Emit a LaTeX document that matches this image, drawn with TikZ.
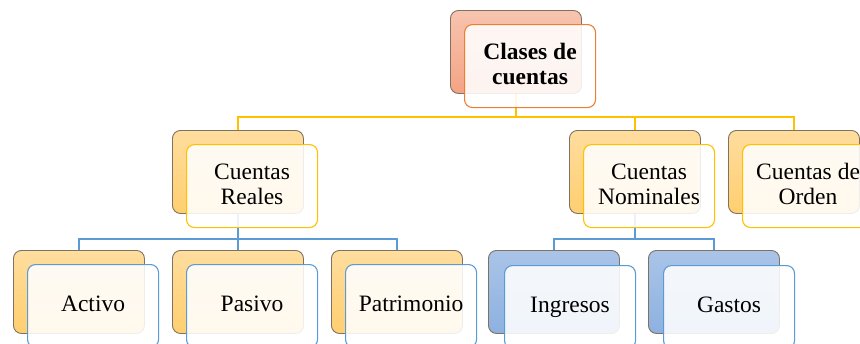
\documentclass[tikz,border=0pt]{standalone}
\usepackage{fontspec}
\setmainfont{Liberation Serif}
\usetikzlibrary{backgrounds}
\definecolor{salT}{HTML}{F8C4AF}
\definecolor{salB}{HTML}{F4A384}
\definecolor{yelT}{HTML}{FFDD9E}
\definecolor{yelB}{HTML}{FFCF70}
\definecolor{bluT}{HTML}{AAC4E8}
\definecolor{bluB}{HTML}{8DB1E0}
\definecolor{backline}{HTML}{7F7262}
\definecolor{orgline}{HTML}{ED7D31}
\definecolor{goldline}{HTML}{FFC000}
\definecolor{blueline}{HTML}{5B9BD5}
\newcommand\mystrut{\rule[-4.5pt]{0pt}{20.5pt}}
\tikzset{
  bk/.style={draw=backline, line width=0.9pt, rounded corners=8pt,
    minimum width=131pt, minimum height=83pt, anchor=north west, inner sep=0pt},
  bksal/.style={bk, top color=salT, bottom color=salB},
  bkyel/.style={bk, top color=yelT, bottom color=yelB},
  bkblu/.style={bk, top color=bluT, bottom color=bluB},
  fr/.style={fill=white, fill opacity=0.88, text opacity=1, line width=1.1pt,
    rounded corners=8pt, minimum width=131pt, minimum height=83pt,
    anchor=north west, inner sep=0pt, align=center,
    font=\fontsize{23.5}{25}\selectfont},
  frorg/.style={fr, draw=orgline, font=\fontsize{23.5}{25}\selectfont\bfseries},
  frgold/.style={fr, draw=goldline},
  frblue/.style={fr, draw=blueline},
  ycon/.style={draw=goldline, line width=2.5pt},
  bcon/.style={draw=blueline, line width=2.5pt},
}
\begin{document}
\begin{tikzpicture}[x=1pt, y=-1pt]
\useasboundingbox (0,0) rectangle (860,343);
\clip (0,0) rectangle (860,343);
% top
\node[bksal] (clasesB) at (450,10) {};
\node[frorg] (clases) at (464,24) {\mystrut Clases de\\\mystrut cuentas};
% level 2
\node[bkyel] (realesB) at (172,130) {};
\node[frgold] (reales) at (186,144) {\mystrut Cuentas\\\mystrut Reales};
\node[bkyel] (nominalesB) at (569,130) {};
\node[frgold] (nominales) at (583,144) {\mystrut Cuentas\\\mystrut Nominales};
\node[bkyel] (ordenB) at (728,130) {};
\node[frgold] (orden) at (742,144) {\mystrut Cuentas de\\\mystrut Orden};
% level 3
\node[bkyel] (activoB) at (13,250) {};
\node[frblue] (activo) at (27,264) {\mystrut Activo};
\node[bkyel] (pasivoB) at (172,250) {};
\node[frblue] (pasivo) at (186,264) {\mystrut Pasivo};
\node[bkyel] (patrimonioB) at (331,250) {};
\node[frblue] (patrimonio) at (345,264) {\mystrut Patrimonio};
\node[bkblu] (ingresosB) at (488,250) {};
\node[frblue] (ingresos) at (504,265) {\mystrut Ingresos};
\node[bkblu] (gastosB) at (648,250) {};
\node[frblue] (gastos) at (663,265) {\mystrut Gastos};
\coordinate (ybus) at (0,117);
\coordinate (bbus) at (0,239);
\begin{scope}[on background layer]
  \foreach \c in {realesB, nominalesB, ordenB}
    \draw[ycon] (clasesB.south) |- (\c.north |- ybus) -- (\c.north);
  \foreach \c in {activoB, pasivoB, patrimonioB}
    \draw[bcon] (realesB.south) |- (\c.north |- bbus) -- (\c.north);
  \foreach \c in {ingresosB, gastosB}
    \draw[bcon] (nominalesB.south) |- (\c.north |- bbus) -- (\c.north);
\end{scope}
\end{tikzpicture}
\end{document}
